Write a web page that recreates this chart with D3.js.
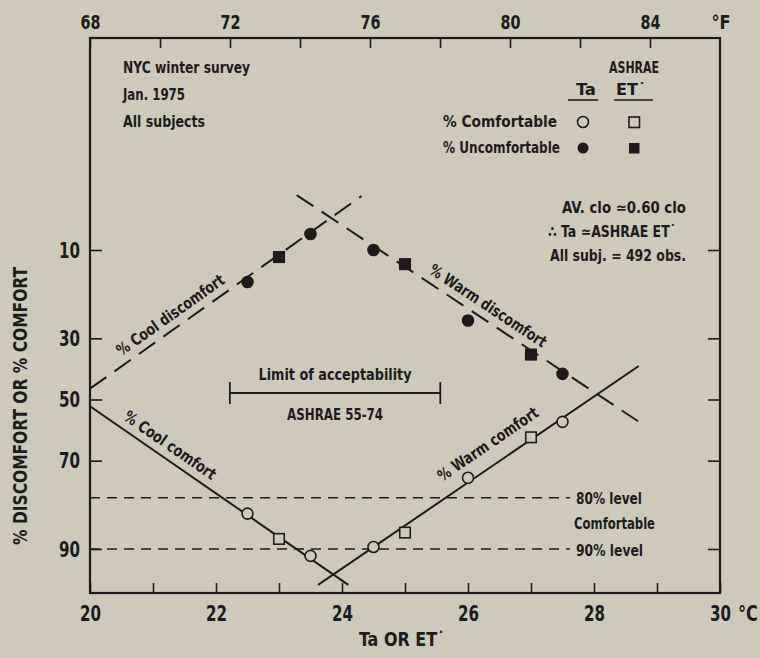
<!DOCTYPE html>
<html>
<head>
<meta charset="utf-8">
<script src="https://cdn.jsdelivr.net/npm/d3@7/dist/d3.min.js"></script>
<style>
  html, body { margin: 0; padding: 0; background: #cdcabb; }
  svg { display: block; }
  text { font-family: "Liberation Sans Narrow", "Arial Narrow", "DejaVu Sans Condensed", sans-serif; font-weight: bold; fill: #1c1c1c; }
</style>
</head>
<body>
<svg id="chart" width="760" height="658"></svg>
<script>
// ---------------- data ----------------
const celsiusTicks = [20, 21, 22, 23, 24, 25, 26, 27, 28, 29, 30];
const celsiusLabels = [20, 22, 24, 26, 28, 30];
const fahrenheitTicks = [68, 70, 72, 74, 76, 78, 80, 82, 84];
const fahrenheitLabels = [68, 72, 76, 80, 84];
const percentTicks = [10, 30, 50, 70, 90];

// points: [temperature °C, percent]
const taComfortable = [[22.5, 83.6], [23.5, 91.0], [24.5, 89.7], [26.0, 74.9], [27.5, 57.6]];
const etComfortable = [[23.0, 88.4], [25.0, 87.3], [27.0, 62.7]];
const taUncomfortable = [[22.5, 15.7], [23.5, 7.8], [24.5, 10.0], [26.0, 24.9], [27.5, 41.3]];
const etUncomfortable = [[23.0, 11.1], [25.0, 12.3], [27.0, 35.0]];

// fitted lines: [temperature °C, percent]
const coolComfort = [[20.0, 52.3], [24.1, 94.4]];
const warmComfort = [[23.62, 94.4], [28.71, 38.7]];
const coolDiscomfort = [[20.0, 46.3], [24.31, 4.06]];
const warmDiscomfort = [[23.28, 3.99], [28.70, 57.4]];

const acceptabilityLimits = [22.22, 25.56]; // 72–78 °F
const comfortLevels = [80, 90];

const lineLabels = ["% Cool discomfort", "% Warm discomfort", "% Cool comfort", "% Warm comfort"];
const surveyNotes = ["NYC winter survey", "Jan. 1975", "All subjects"];
const avNotes = ["AV. clo \u22430.60 clo", "\u2234 Ta \u2243ASHRAE ET\u02D9", "All subj. = 492 obs."];

// ---------------- scales ----------------
function probit(p) {
  const a=[-3.969683028665376e+01,2.209460984245205e+02,-2.759285104469687e+02,1.383577518672690e+02,-3.066479806614716e+01,2.506628277459239e+00];
  const b=[-5.447609879822406e+01,1.615858368580409e+02,-1.556989798598866e+02,6.680131188771972e+01,-1.328068155288572e+01];
  const c=[-7.784894002430293e-03,-3.223964580411365e-01,-2.400758277161838e+00,-2.549732539343734e+00,4.374664141464968e+00,2.938163982698783e+00];
  const d=[7.784695709041462e-03,3.224671290700398e-01,2.445134137142996e+00,3.754408661907416e+00];
  const pl = 0.02425, ph = 1 - pl;
  let q, r;
  if (p < pl) { q = Math.sqrt(-2*Math.log(p)); return (((((c[0]*q+c[1])*q+c[2])*q+c[3])*q+c[4])*q+c[5])/((((d[0]*q+d[1])*q+d[2])*q+d[3])*q+1); }
  if (p <= ph) { q = p - 0.5; r = q*q; return (((((a[0]*r+a[1])*r+a[2])*r+a[3])*r+a[4])*r+a[5])*q/(((((b[0]*r+b[1])*r+b[2])*r+b[3])*r+b[4])*r+1); }
  q = Math.sqrt(-2*Math.log(1-p)); return -(((((c[0]*q+c[1])*q+c[2])*q+c[3])*q+c[4])*q+c[5])/((((d[0]*q+d[1])*q+d[2])*q+d[3])*q+1);
}

const L = 90, R = 720, T = 38, B = 593;
const ink = "#1c1c1c", bg = "#cdcabb";
const FONT = '"Liberation Sans Narrow", "Arial Narrow", "DejaVu Sans Condensed", sans-serif';

const x = d3.scaleLinear().domain([20, 30]).range([L, R]);
const xF = d3.scaleLinear().domain([68, 86]).range([L, R]);
const yZ = d3.scaleLinear().domain([probit(0.10), probit(0.90)]).range([250, 549]);
const y = p => yZ(probit(p / 100));

const svg = d3.select("#chart");

// text helper: optional fitted width to mimic condensed lettering
function label(parent, px, py, str, size, anchor, width) {
  const t = parent.append("text").attr("x", px).attr("y", py)
    .attr("text-anchor", anchor || "start").style("font-size", size + "px").text(str);
  if (width) t.attr("textLength", width).attr("lengthAdjust", "spacingAndGlyphs");
  return t;
}

// ---------------- axes ----------------
function styleAxis(g, size, w) {
  g.select(".domain").remove();
  g.selectAll(".tick line").attr("stroke", ink).attr("stroke-width", 1.6);
  g.selectAll(".tick text").attr("fill", ink).style("font-size", size + "px")
    .style("font-family", FONT).style("font-weight", "bold")
    .each(function () {
      const s = d3.select(this);
      if (s.text().length) s.attr("textLength", w * s.text().length / 2).attr("lengthAdjust", "spacingAndGlyphs");
    });
}

svg.append("g").attr("transform", `translate(0,${B})`)
  .call(d3.axisBottom(x).tickValues(celsiusTicks).tickSize(-10).tickPadding(12)
    .tickFormat(d => celsiusLabels.includes(d) ? d : ""))
  .call(g => styleAxis(g, 22, 21));

svg.append("g").attr("transform", `translate(0,${T})`)
  .call(d3.axisTop(xF).tickValues(fahrenheitTicks).tickSize(-10).tickPadding(9)
    .tickFormat(d => fahrenheitLabels.includes(d) ? d : ""))
  .call(g => styleAxis(g, 20, 20));

const zTicks = percentTicks.map(p => probit(p / 100));
svg.append("g").attr("transform", `translate(${L},0)`)
  .call(d3.axisLeft(yZ).tickValues(zTicks).tickSize(-12).tickPadding(10)
    .tickFormat((d, i) => percentTicks[i]))
  .call(g => styleAxis(g, 22, 21));

svg.append("g").attr("transform", `translate(${R},0)`)
  .call(d3.axisRight(yZ).tickValues(zTicks).tickSize(-12).tickFormat(""))
  .call(g => styleAxis(g, 22, 21));

// frame
svg.append("rect").attr("x", L).attr("y", T).attr("width", R - L).attr("height", B - T)
  .attr("fill", "none").attr("stroke", ink).attr("stroke-width", 2.2);

// units
label(svg, 721, 29, "\u00B0F", 20, "middle", 19);
label(svg, 738, 621, "\u00B0C", 21, "start", 20);

// axis titles
svg.append("text").attr("transform", "translate(27,406) rotate(-90)").attr("text-anchor", "middle")
  .style("font-size", "20px").attr("textLength", 278).attr("lengthAdjust", "spacingAndGlyphs")
  .text("% DISCOMFORT OR % COMFORT");
label(svg, 402, 646, "Ta OR ET\u02D9", 19, "middle", 86);

// ---------------- comfort level lines ----------------
comfortLevels.forEach(lv => {
  svg.append("line").attr("x1", L).attr("x2", 570).attr("y1", y(lv)).attr("y2", y(lv))
    .attr("stroke", ink).attr("stroke-width", 1.6).attr("stroke-dasharray", "10,7");
});
label(svg, 576, y(80) + 6, comfortLevels[0] + "% level", 16, "start", 66);
label(svg, 574, y(85.5) + 6, "Comfortable", 16, "start", 81);
label(svg, 576, y(90) + 7, comfortLevels[1] + "% level", 16, "start", 67);

// ---------------- acceptability bar ----------------
const accY = 393;
svg.append("line").attr("x1", x(acceptabilityLimits[0])).attr("x2", x(acceptabilityLimits[1]))
  .attr("y1", accY).attr("y2", accY).attr("stroke", ink).attr("stroke-width", 1.8);
acceptabilityLimits.forEach(t => {
  svg.append("line").attr("x1", x(t)).attr("x2", x(t)).attr("y1", accY - 11).attr("y2", accY + 11)
    .attr("stroke", ink).attr("stroke-width", 1.8);
});
const accMid = (x(acceptabilityLimits[0]) + x(acceptabilityLimits[1])) / 2;
label(svg, accMid, accY - 13, "Limit of acceptability", 16, "middle", 153);
label(svg, accMid, accY + 27, "ASHRAE 55-74", 16, "middle", 96);

// ---------------- fitted lines ----------------
const lineGen = d3.line().x(d => x(d[0])).y(d => y(d[1]));
[[coolComfort, null], [warmComfort, null], [coolDiscomfort, "20,10"], [warmDiscomfort, "20,10"]].forEach(([data, dash]) => {
  svg.append("path").datum(data).attr("d", lineGen).attr("fill", "none")
    .attr("stroke", ink).attr("stroke-width", 2).attr("stroke-dasharray", dash);
});

// line labels
function labelOnLine(data, t, text, off, width) {
  const p1 = [x(data[0][0]), y(data[0][1])], p2 = [x(data[1][0]), y(data[1][1])];
  const ang = Math.atan2(p2[1] - p1[1], p2[0] - p1[0]) * 180 / Math.PI;
  const f = (t - data[0][0]) / (data[1][0] - data[0][0]);
  const px = p1[0] + f * (p2[0] - p1[0]), py = p1[1] + f * (p2[1] - p1[1]);
  svg.append("text").attr("transform", `translate(${px},${py}) rotate(${ang})`)
    .attr("text-anchor", "middle").attr("y", -off).style("font-size", "16px")
    .attr("textLength", width).attr("lengthAdjust", "spacingAndGlyphs").text(text);
}
labelOnLine(coolDiscomfort, 21.4, lineLabels[0], 8, 128);
labelOnLine(warmDiscomfort, 26.2, lineLabels[1], 8, 137);
labelOnLine(coolComfort, 21.15, lineLabels[2], 8, 108);
labelOnLine(warmComfort, 26.5, lineLabels[3], 15, 118);

// ---------------- points ----------------
function circles(data, filled) {
  svg.append("g").selectAll("circle").data(data).join("circle")
    .attr("cx", d => x(d[0])).attr("cy", d => y(d[1])).attr("r", 5.5)
    .attr("fill", filled ? ink : bg).attr("stroke", ink).attr("stroke-width", 1.6);
}
function squares(data, filled) {
  const s = 10.5;
  svg.append("g").selectAll("rect").data(data).join("rect")
    .attr("x", d => x(d[0]) - s / 2).attr("y", d => y(d[1]) - s / 2).attr("width", s).attr("height", s)
    .attr("fill", filled ? ink : bg).attr("stroke", ink).attr("stroke-width", 1.6);
}
circles(taComfortable, false);
squares(etComfortable, false);
circles(taUncomfortable, true);
squares(etUncomfortable, true);

// ---------------- notes / legend ----------------
const surveyWidths = [127, 62, 82];
surveyNotes.forEach((s, i) => label(svg, 123, 73 + i * 27, s, 15, "start", surveyWidths[i]));

label(svg, 634, 73, "ASHRAE", 15, "middle", 50);
label(svg, 586, 95, "Ta", 15, "middle", 20);
label(svg, 631, 95, "ET\u02D9", 15, "middle", 30);
svg.append("line").attr("x1", 568).attr("x2", 598).attr("y1", 100).attr("y2", 100).attr("stroke", ink).attr("stroke-width", 1.6);
svg.append("line").attr("x1", 614).attr("x2", 653).attr("y1", 100).attr("y2", 100).attr("stroke", ink).attr("stroke-width", 1.6);

label(svg, 443, 127, "% Comfortable", 15, "start", 114);
label(svg, 443, 153, "% Uncomfortable", 15, "start", 117);
svg.append("circle").attr("cx", 583).attr("cy", 122).attr("r", 5.5).attr("fill", bg).attr("stroke", ink).attr("stroke-width", 1.6);
svg.append("rect").attr("x", 629).attr("y", 117).attr("width", 10.5).attr("height", 10.5).attr("fill", bg).attr("stroke", ink).attr("stroke-width", 1.6);
svg.append("circle").attr("cx", 583).attr("cy", 148).attr("r", 5.5).attr("fill", ink);
svg.append("rect").attr("x", 629).attr("y", 143).attr("width", 10.5).attr("height", 10.5).attr("fill", ink);

const noteRight = [686, 676, 686];
const noteWidths = [124, 128, 136];
avNotes.forEach((s, i) => label(svg, noteRight[i], 213 + i * 24, s, 15, "end", noteWidths[i]));
</script>
</body>
</html>
